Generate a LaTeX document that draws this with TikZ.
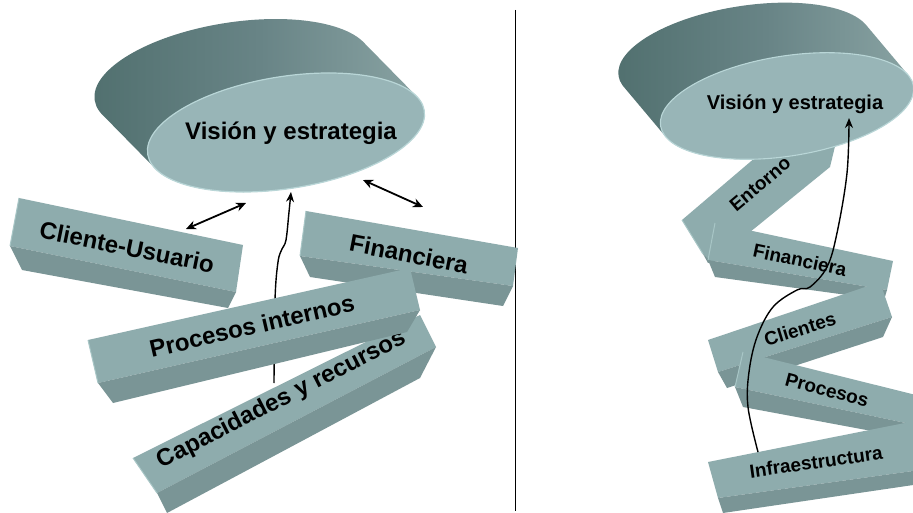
\documentclass[tikz,border=0pt]{standalone}
\usepackage{fontspec}
\setmainfont{Liberation Sans}
\usetikzlibrary{arrows.meta}
\definecolor{topc}{HTML}{8EACAD}
\definecolor{frontc}{HTML}{7A9596}
\definecolor{endc}{HTML}{A8C6C6}
\definecolor{sidel}{HTML}{51706F}
\definecolor{sidem}{HTML}{688486}
\definecolor{sider}{HTML}{8AA4A4}
\definecolor{facec}{HTML}{98B5B7}
\definecolor{rimc}{HTML}{B9D6D7}
\begin{document}
\begin{tikzpicture}[x=1pt,y=-1pt,
 topface/.style={fill=topc},
 frontface/.style={fill=frontc},
 edgehl/.style={draw=endc, line width=1pt},
 biglbl/.style={font=\bfseries\fontsize{24}{26}\selectfont, inner sep=0pt},
 smalllbl/.style={font=\bfseries\fontsize{19}{21}\selectfont, inner sep=0pt},
 dbl/.style={line width=1.8pt, {Stealth[length=10pt,width=9pt]}-{Stealth[length=10pt,width=9pt]}},
 conn/.style={line width=1.4pt, -{Stealth[length=10pt,width=8pt]}},
]
\useasboundingbox (0,0) rectangle (913,513);
\fill[white] (0,0) rectangle (913,513);

% separator
\coordinate (septop) at (515,10);
\coordinate (sepbot) at (515,511);
\draw[line width=1pt] (septop) -- (sepbot);

% ===== LEFT PANEL =====
% disc
\begin{scope}[shift={(286,132.5)}, rotate=9]
 \shade[left color=sidel, right color=sider, middle color=sidem]
   (0,0) ellipse [x radius=140pt, y radius=56pt]
   \foreach \t in {1,...,24} { ({-43.9*\t/24},{-61.6*\t/24}) ellipse [x radius=140pt, y radius=56pt] };
 \fill[facec] (0,0) ellipse [x radius=140pt, y radius=56pt];
 \draw[rimc, line width=1.2pt] (0,0) ellipse [x radius=140pt, y radius=56pt];
\end{scope}
\node[biglbl] (visL) at (291,133) {Visión y estrategia};

% Cliente-Usuario
\fill[topface] (19,198) -- (243,245) -- (236,292) -- (10,246) -- cycle;
\fill[frontface] (10,246) -- (236,292) -- (228,308) -- (22,270) -- cycle;
\draw[edgehl] (19,198) -- (10,246);
\node[biglbl, rotate=-11.5] (cli) at (127,247) {Cliente-Usuario};

% Financiera (left)
\fill[topface] (306,211) -- (518,248) -- (513,286) -- (300,256) -- cycle;
\fill[frontface] (300,256) -- (513,286) -- (503,306) -- (310,277) -- cycle;
\draw[edgehl] (306,211) -- (300,256);
\node[biglbl, rotate=-11] (finL) at (409,254) {Financiera};

% double arrows
\coordinate (a1s) at (186,229);
\coordinate (a1e) at (246,203);
\coordinate (a2s) at (363,180);
\coordinate (a2e) at (423,207);
\draw[dbl] (a1s) -- (a1e);
\draw[dbl] (a2s) -- (a2e);

% Capacidades y recursos
\fill[topface] (133,458) -- (420,315) -- (436,347) -- (157,493) -- cycle;
\fill[frontface] (157,493) -- (436,347) -- (420,378) -- (167,513) -- cycle;
\draw[edgehl] (133,458) -- (157,493);
\node[biglbl, rotate=27] (cap) at (282,400) {Capacidades y recursos};

% vertical arrow
\coordinate (v1s) at (274,383);
\coordinate (v1e) at (291,192);
\draw[conn] plot[smooth, tension=0.6] coordinates {(v1s) (275,300) (278,262) (282,249) (286,240) (289,212) (v1e)};

% Procesos internos
\fill[topface] (88,340) -- (410,268) -- (420,310) -- (98,383) -- cycle;
\fill[frontface] (98,383) -- (420,310) -- (407,332) -- (113,403) -- cycle;
\draw[edgehl] (88,340) -- (98,383);
\node[biglbl, rotate=13] (proc) at (252,326) {Procesos internos};

% ===== RIGHT PANEL =====
% Entorno
\fill[topface] (682,220) -- (790,128) -- (837,138) -- (830,167) -- (755,228) -- (712,262) -- (703,254) -- cycle;
\fill[frontface] (703,254) -- (712,262) -- (708,263) -- cycle;
\draw[edgehl] (682,220) -- (703,254);

% disc
\begin{scope}[shift={(787,106)}, rotate=9]
 \shade[left color=sidel, right color=sider, middle color=sidem]
   (0,0) ellipse [x radius=128pt, y radius=50pt]
   \foreach \t in {1,...,24} { ({-33.7*\t/24},{-56*\t/24}) ellipse [x radius=128pt, y radius=50pt] };
 \fill[facec] (0,0) ellipse [x radius=128pt, y radius=50pt];
 \draw[rimc, line width=1.1pt] (0,0) ellipse [x radius=128pt, y radius=50pt];
\end{scope}
\node[smalllbl, font=\bfseries\fontsize{20}{22}\selectfont] (visR) at (795,104) {Visión y estrategia};
\node[smalllbl, rotate=40] (ent) at (760,184) {Entorno};

% Financiera (right)
\fill[topface] (715,223) -- (893,261) -- (887,290) -- (708,260) -- cycle;
\fill[frontface] (708,260) -- (887,290) -- (884,300) -- (715,277) -- cycle;
\draw[edgehl] (715,223) -- (708,260);
\node[smalllbl, rotate=-12] (finR) at (800,260) {Financiera};

% Clientes
\fill[topface] (708,340) -- (880,282) -- (892,317) -- (718,372) -- cycle;
\fill[frontface] (718,372) -- (892,317) -- (883,337) -- (727,388) -- cycle;
\node[smalllbl, rotate=17] (clR) at (800,329) {Clientes};

% Procesos
\fill[topface] (743,352) -- (920,396) -- (920,426) -- (735,387) -- cycle;
\fill[frontface] (735,387) -- (920,426) -- (920,440) -- (743,407) -- cycle;
\draw[edgehl] (743,352) -- (735,387);
\node[smalllbl, rotate=-15] (prR) at (827,390) {Procesos};

% Infraestructura
\fill[topface] (708,462) -- (920,420) -- (920,470) -- (718,498) -- cycle;
\fill[frontface] (718,498) -- (920,470) -- (920,484) -- (723,513) -- cycle;
\node[smalllbl, rotate=8] (inf) at (816,462) {Infraestructura};

% curve arrow
\coordinate (c1s) at (758,452);
\coordinate (c1e) at (849,118);
\draw[conn] plot[smooth, tension=0.6] coordinates {(c1s) (748,407) (749,372) (757,337) (773,307) (797,290) (810,287) (827,267) (837,233) (847,173) (c1e)};
\end{tikzpicture}
\end{document}
